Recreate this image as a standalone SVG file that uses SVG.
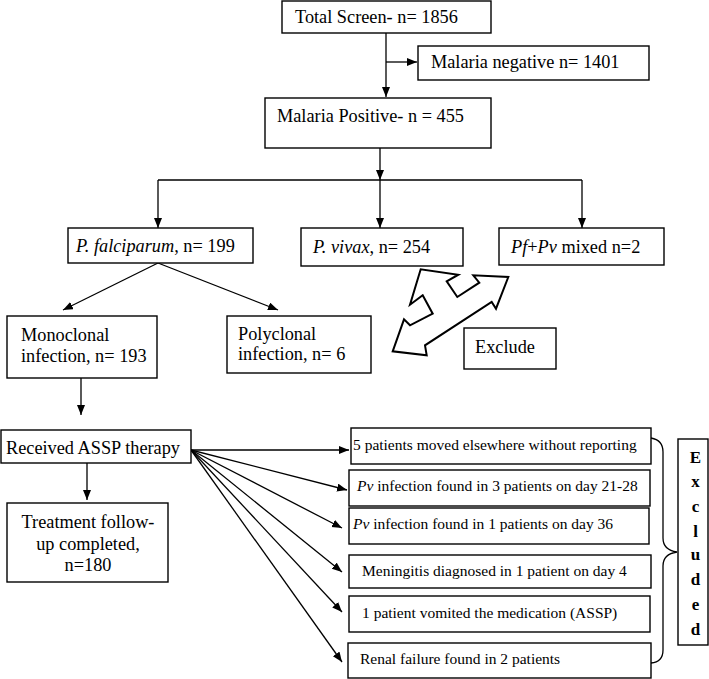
<svg xmlns="http://www.w3.org/2000/svg" width="709" height="679" viewBox="0 0 709 679">
<defs>
<marker id="ah" markerUnits="userSpaceOnUse" markerWidth="11" markerHeight="9" refX="10" refY="4" orient="auto">
<path d="M0,0 L10,4 L0,8 z" fill="#000"/>
</marker>
<style>
.box{fill:#fff;stroke:#000;stroke-width:1.4}
.t{font-family:"Liberation Serif","Times New Roman",serif;font-size:18.3px;fill:#000}
.s{font-family:"Liberation Serif","Times New Roman",serif;font-size:15.5px;fill:#000}
.b{font-family:"Liberation Serif","Times New Roman",serif;font-size:17px;font-weight:bold;fill:#000}
.c{fill:none;stroke:#000;stroke-width:1.3}
.a{marker-end:url(#ah)}
</style>
</defs>
<rect width="709" height="679" fill="#fff"/>
<g id="connectors">
<line class="c a" x1="386" y1="33" x2="386" y2="97"/>
<line class="c a" x1="386" y1="62" x2="417" y2="62"/>
<line class="c a" x1="380" y1="148" x2="380" y2="180"/>
<line class="c" x1="158" y1="180" x2="582" y2="180"/>
<line class="c a" x1="158" y1="180" x2="158" y2="228"/>
<line class="c a" x1="380" y1="180" x2="380" y2="228"/>
<line class="c a" x1="582" y1="180" x2="582" y2="228"/>
<line class="c a" x1="158" y1="263" x2="63" y2="310"/>
<line class="c a" x1="158" y1="263" x2="278" y2="310"/>
<line class="c a" x1="81" y1="378" x2="81" y2="415"/>
<line class="c a" x1="87" y1="463" x2="87" y2="500"/>
<line class="c a" x1="191" y1="450" x2="349" y2="450"/>
<line class="c a" x1="191" y1="450" x2="347" y2="490"/>
<line class="c a" x1="191" y1="450" x2="342" y2="528"/>
<line class="c a" x1="191" y1="450" x2="342" y2="572"/>
<line class="c a" x1="191" y1="450" x2="342" y2="612"/>
<line class="c a" x1="191" y1="450" x2="342" y2="662"/>
<path class="c" d="M651,438 Q663,440 663,452 L663,538 Q663,550 677,552 Q663,554 663,566 L663,650 Q663,662 651,663"/>
</g>
<g id="total">
<rect class="box" x="282" y="1" width="209" height="32"/>
<text class="t" x="295" y="23">Total Screen- n= 1856</text>
</g>
<g id="negative">
<rect class="box" x="418" y="46" width="231" height="34"/>
<text class="t" x="431" y="68">Malaria negative n= 1401</text>
</g>
<g id="positive">
<rect class="box" x="265" y="98" width="226" height="50"/>
<text class="t" x="277" y="122">Malaria Positive- n = 455</text>
</g>
<g id="pf">
<rect class="box" x="68" y="228" width="185" height="35"/>
<text class="t" x="76" y="252"><tspan font-style="italic">P. falciparum</tspan>, n= 199</text>
</g>
<g id="pv">
<rect class="box" x="301" y="228" width="162" height="38"/>
<text class="t" x="313" y="253"><tspan font-style="italic">P. vivax</tspan>, n= 254</text>
</g>
<g id="mixed">
<rect class="box" x="499" y="228" width="165" height="37"/>
<text class="t" x="511" y="253"><tspan font-style="italic">Pf</tspan>+<tspan font-style="italic">Pv</tspan> mixed n=2</text>
</g>
<g id="exclude-arrow">
<polygon fill="#fff" stroke="#000" stroke-width="2" stroke-linejoin="miter" points="392.7,351.3 404,319.3 410,325.3 432.7,313.7 422.7,295.3 410,304.7 420.7,269.3 458.3,274.7 446.7,281.3 457.3,297 479.3,282.7 473.3,275.3 508.3,277 496,308.7 491.7,302 425,345.3 426.7,355.3"/>
</g>
<g id="exclude">
<rect class="box" x="464" y="328" width="92" height="41"/>
<text class="t" x="475" y="353">Exclude</text>
</g>
<g id="mono">
<rect class="box" x="7" y="316" width="150" height="62"/>
<text class="t" x="21" y="341">Monoclonal</text>
<text class="t" x="21" y="362">infection, n= 193</text>
</g>
<g id="poly">
<rect class="box" x="227" y="316" width="144" height="57"/>
<text class="t" x="238" y="340">Polyclonal</text>
<text class="t" x="238" y="360">infection, n= 6</text>
</g>
<g id="assp">
<rect class="box" x="1" y="430" width="190" height="33"/>
<text class="t" x="6" y="454">Received ASSP therapy</text>
</g>
<g id="followup">
<rect class="box" x="7" y="503" width="161" height="79"/>
<text class="t" x="88" y="528" text-anchor="middle">Treatment follow-</text>
<text class="t" x="88" y="550" text-anchor="middle">up completed,</text>
<text class="t" x="88" y="571" text-anchor="middle">n=180</text>
</g>
<g id="r1">
<rect class="box" x="351" y="428" width="300" height="36"/>
<text class="s" x="353" y="450">5 patients moved elsewhere without reporting</text>
</g>
<g id="r2">
<rect class="box" x="349" y="470" width="301" height="36"/>
<text class="s" x="357" y="491"><tspan font-style="italic">Pv</tspan> infection found in 3 patients on day 21-28</text>
</g>
<g id="r3">
<rect class="box" x="349" y="508" width="300" height="36"/>
<text class="s" x="353" y="529"><tspan font-style="italic">Pv</tspan> infection found in 1 patients on day 36</text>
</g>
<g id="r4">
<rect class="box" x="349" y="555" width="302" height="33"/>
<text class="s" x="362" y="576">Meningitis diagnosed in 1 patient on day 4</text>
</g>
<g id="r5">
<rect class="box" x="349" y="596" width="301" height="36"/>
<text class="s" x="362" y="618">1 patient vomited the medication (ASSP)</text>
</g>
<g id="r6">
<rect class="box" x="348" y="643" width="303" height="35"/>
<text class="s" x="360" y="664">Renal failure found in 2 patients</text>
</g>
<g id="excluded">
<rect class="box" x="678" y="439" width="30" height="206"/>
<text class="b" x="695.5" y="463" text-anchor="middle">E</text>
<text class="b" x="695.5" y="487" text-anchor="middle">x</text>
<text class="b" x="695.5" y="512" text-anchor="middle">c</text>
<text class="b" x="695.5" y="537" text-anchor="middle">l</text>
<text class="b" x="695.5" y="560" text-anchor="middle">u</text>
<text class="b" x="695.5" y="585" text-anchor="middle">d</text>
<text class="b" x="695.5" y="610" text-anchor="middle">e</text>
<text class="b" x="695.5" y="635" text-anchor="middle">d</text>
</g>
</svg>
